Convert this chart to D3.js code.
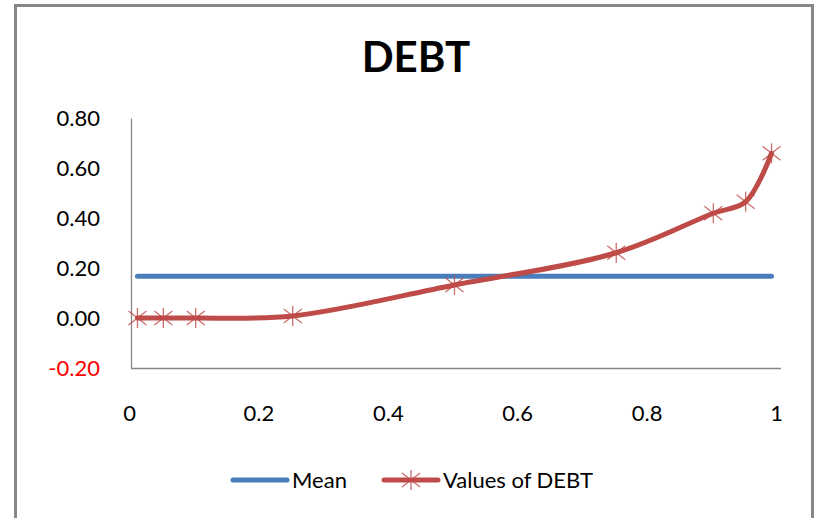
<!DOCTYPE html>
<html>
<head>
<meta charset="utf-8">
<script src="https://cdn.jsdelivr.net/npm/d3@7"></script>
<style>
  body { margin: 0; background: #fff; }
  text { font-family: Lato, "Open Sans", sans-serif; }
</style>
</head>
<body>
<div id="container"></div>
<script>
/* CONSTANTS AND GLOBALS */
const width = 819,
  height = 518;

/* DATA */
const percentiles = [0.01, 0.05, 0.10, 0.25, 0.50, 0.75, 0.90, 0.95, 0.99];
const debtValues = [0.000, 0.000, 0.000, 0.008, 0.132, 0.261, 0.419, 0.465, 0.659];
const meanValue = 0.167;
const xTicks = [0, 0.2, 0.4, 0.6, 0.8, 1];
const yTicks = [-0.2, 0, 0.2, 0.4, 0.6, 0.8];
const seriesNames = ["Mean", "Values of DEBT"];
const chartTitle = "DEBT";

const blue = "#4a7ebb",
  red = "#be4b48";

const debt = percentiles.map((p, i) => ({ x: p, y: debtValues[i] }));
const mean = percentiles.map(p => ({ x: p, y: meanValue }));

// SCALES
const xScale = d3.scaleLinear()
  .domain([0, 1])
  .range([131, 778]);

const yScale = d3.scaleLinear()
  .domain([-0.2, 0.8])
  .range([368, 118]);

// CREATE SVG ELEMENT
const svg = d3.select("#container")
  .append("svg")
  .attr("width", width)
  .attr("height", height);

// outer frame
svg.append("rect")
  .attr("x", 15.5)
  .attr("y", 5.5)
  .attr("width", 797)
  .attr("height", 540)
  .attr("fill", "#fff")
  .attr("stroke", "#878787")
  .attr("stroke-width", 3);

svg.append("text")
  .attr("x", 416)
  .attr("y", 72)
  .attr("text-anchor", "middle")
  .style("font-size", "42px")
  .style("font-weight", "bold")
  .text(chartTitle);

// AXES
const yAxis = svg.append("g")
  .attr("class", "y-axis")
  .attr("transform", `translate(${xScale(0)},0)`)
  .call(d3.axisLeft(yScale).tickValues(yTicks).tickSize(0).tickPadding(31)
    .tickFormat(d => d.toFixed(2)));

yAxis.selectAll("text")
  .style("font-size", "22px")
  .attr("fill", d => d < 0 ? "#ff0000" : "#000");

const xAxis = svg.append("g")
  .attr("class", "x-axis")
  .attr("transform", `translate(0,${yScale(-0.2)})`)
  .call(d3.axisBottom(xScale).tickValues(xTicks).tickSize(0).tickPadding(37)
    .tickFormat(d => String(d)));

xAxis.selectAll("text")
  .style("font-size", "22px")
  .attr("dx", -2)
  .attr("fill", "#000");

// plot area runs a little past x = 1
xAxis.select(".domain")
  .attr("d", `M${xScale(0)},0.5H${xScale(1) + 3}`);

svg.selectAll(".domain")
  .attr("stroke", "#868686")
  .attr("stroke-width", 1.3);

// LINES
const lineGen = d3.line()
  .x(d => xScale(d.x))
  .y(d => yScale(d.y));

svg.append("path")
  .attr("class", "mean-line")
  .attr("d", lineGen(mean))
  .attr("fill", "none")
  .attr("stroke", blue)
  .attr("stroke-width", 5)
  .attr("stroke-linecap", "round");

svg.append("path")
  .attr("class", "debt-line")
  .attr("d", lineGen.curve(d3.curveCatmullRom.alpha(0.5))(debt))
  .attr("fill", "none")
  .attr("stroke", red)
  .attr("stroke-width", 5)
  .attr("stroke-linecap", "round")
  .attr("stroke-linejoin", "round");

// star marker
const star = (w, h) => `M0,${-h}V${h}M${-w},${-h * 0.7}L${w},${h * 0.7}M${-w},${h * 0.7}L${w},${-h * 0.7}`;

svg.selectAll(".marker")
  .data(debt)
  .join("path")
  .attr("class", "marker")
  .attr("transform", d => `translate(${xScale(d.x)},${yScale(d.y)})`)
  .attr("d", star(9, 10))
  .attr("fill", "none")
  .attr("stroke", red)
  .attr("stroke-opacity", 0.8)
  .attr("stroke-width", 1.3);

// LEGEND
const legend = svg.append("g").attr("class", "legend");
const legendY = 480;

legend.append("line")
  .attr("x1", 233).attr("x2", 287)
  .attr("y1", legendY).attr("y2", legendY)
  .attr("stroke", blue).attr("stroke-width", 5).attr("stroke-linecap", "round");

legend.append("text")
  .attr("x", 292).attr("y", legendY)
  .attr("dy", "0.35em")
  .style("font-size", "22px")
  .text(seriesNames[0]);

legend.append("line")
  .attr("x1", 384).attr("x2", 438)
  .attr("y1", legendY).attr("y2", legendY)
  .attr("stroke", red).attr("stroke-width", 5).attr("stroke-linecap", "round");

legend.append("path")
  .attr("transform", `translate(411,${legendY})`)
  .attr("d", star(9, 10))
  .attr("fill", "none")
  .attr("stroke", red)
  .attr("stroke-opacity", 0.8)
  .attr("stroke-width", 1.3);

legend.append("text")
  .attr("x", 443).attr("y", legendY)
  .attr("dy", "0.35em")
  .style("font-size", "22px")
  .text(seriesNames[1]);
</script>
</body>
</html>
